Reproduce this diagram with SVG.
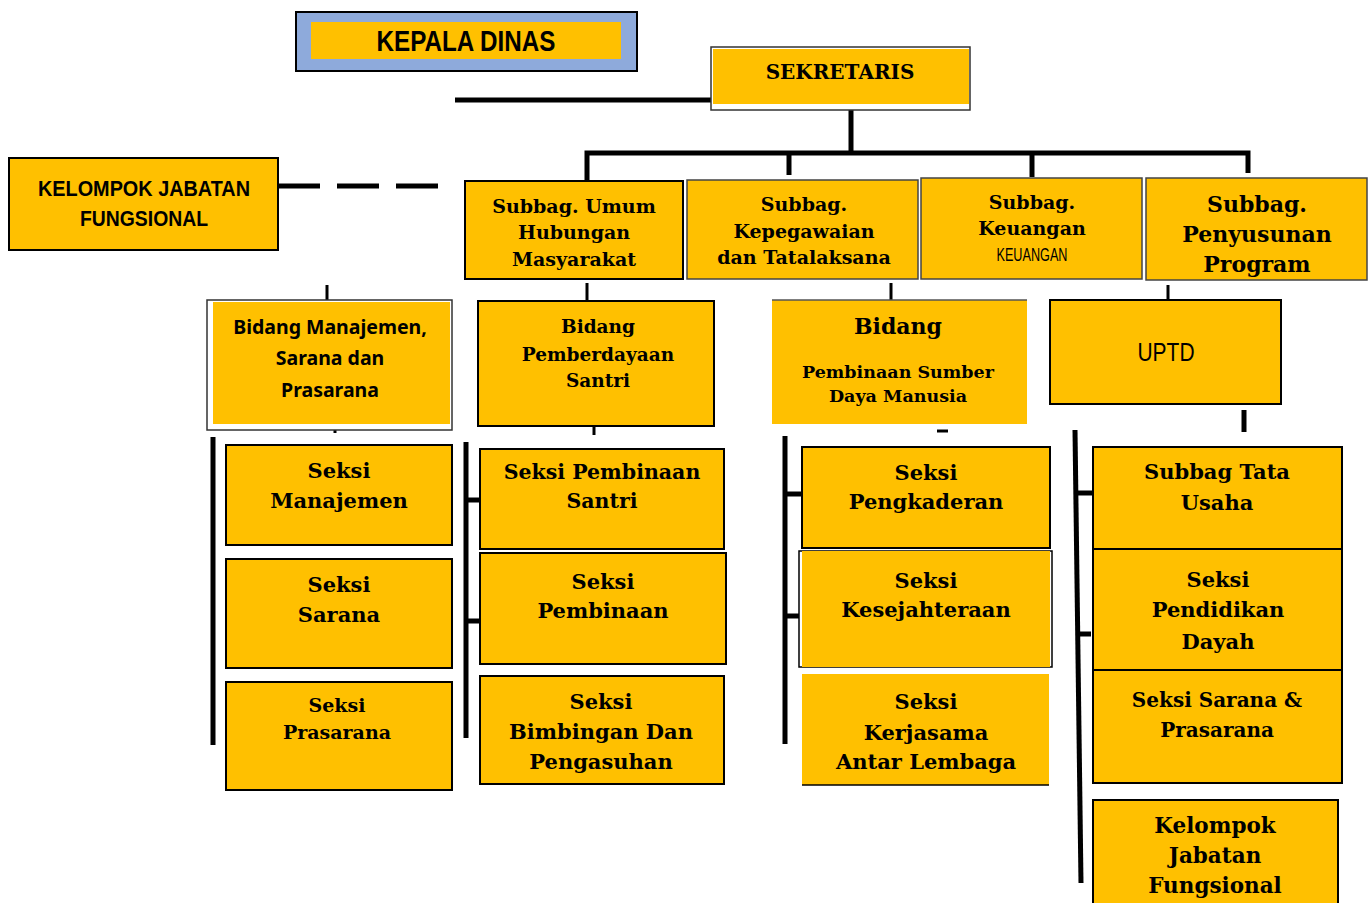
<svg xmlns="http://www.w3.org/2000/svg" width="1371" height="903" viewBox="0 0 1371 903">
<style>
.y{fill:#FFC000}
.b{fill:#FFC000;stroke:#000;stroke-width:2}
.g{fill:#FFC000;stroke:#444;stroke-width:1.5}
.w{fill:#fff;stroke:#333;stroke-width:1.5}
.s{font-family:"DejaVu Serif","Liberation Serif",serif;font-weight:bold;fill:#000;text-anchor:middle}
.n{font-family:"Liberation Sans Narrow","Liberation Sans",Arial,sans-serif;font-weight:bold;fill:#000;text-anchor:middle}
.nr{font-weight:normal}
.c{font-family:"Noto Sans","Open Sans",sans-serif;font-weight:bold;fill:#000;text-anchor:middle}
.ln{stroke:#000;stroke-width:5;fill:none}
.th{stroke:#000;stroke-width:3;fill:none}
</style>
<rect width="1371" height="903" fill="#fff"/>
<g id="connectors">
<line class="ln" x1="455" y1="100" x2="711" y2="100"/>
<line class="ln" x1="851" y1="110" x2="851" y2="153"/>
<polyline class="ln" points="587,180 587,153 1248,153 1248,173"/>
<line class="ln" x1="789" y1="153" x2="789" y2="175"/>
<line class="ln" x1="1032" y1="153" x2="1032" y2="177"/>
<line class="ln" x1="278" y1="186" x2="438" y2="186" stroke-dasharray="42,17"/>
<line class="th" x1="327" y1="285" x2="327" y2="300"/>
<line class="th" x1="587" y1="283" x2="587" y2="301"/>
<line class="th" x1="891" y1="283" x2="891" y2="300"/>
<line class="th" x1="1168" y1="285" x2="1168" y2="300"/>
<line class="th" x1="335" y1="424" x2="335" y2="433"/>
<line class="th" x1="594" y1="426" x2="594" y2="435"/>
<line class="th" x1="937" y1="431" x2="948" y2="431"/>
<line class="ln" x1="1244" y1="410" x2="1244" y2="432"/>
<line class="ln" x1="213" y1="437" x2="213" y2="745"/>
<line class="ln" x1="466" y1="442" x2="466" y2="738"/>
<line class="ln" x1="466" y1="500" x2="480" y2="500"/>
<line class="ln" x1="466" y1="621" x2="480" y2="621"/>
<line class="ln" x1="785" y1="436" x2="785" y2="744"/>
<line class="ln" x1="785" y1="494" x2="801" y2="494"/>
<line class="ln" x1="785" y1="616" x2="799" y2="616"/>
<line class="ln" x1="1075" y1="430" x2="1081" y2="883"/>
<line class="ln" x1="1076" y1="493" x2="1093" y2="493"/>
<line class="ln" x1="1077" y1="634" x2="1091" y2="634"/>
</g>
<g id="kepala-dinas">
<rect x="296" y="12" width="341" height="59" fill="#8EAADB" stroke="#000" stroke-width="2"/>
<rect class="y" x="311" y="22" width="310" height="37"/>
<text class="n" x="466" y="51" font-size="29" textLength="179" lengthAdjust="spacingAndGlyphs">KEPALA DINAS</text>
</g>
<g id="sekretaris">
<rect class="w" x="711" y="47" width="259" height="63" stroke="#000" stroke-width="2"/>
<rect class="y" x="713" y="49" width="256" height="55"/>
<text class="s" x="840" y="79" font-size="20">SEKRETARIS</text>
</g>
<g id="kelompok-jf">
<rect class="b" x="9" y="158" width="269" height="92" stroke-width="2.5"/>
<text class="n" x="144" y="196" font-size="22" textLength="212" lengthAdjust="spacingAndGlyphs">KELOMPOK JABATAN</text>
<text class="n" x="144" y="226" font-size="22" textLength="128" lengthAdjust="spacingAndGlyphs">FUNGSIONAL</text>
</g>
<g id="subbag-umum">
<rect class="b" x="465" y="181" width="218" height="98"/>
<text class="s" x="574" y="213" font-size="19">Subbag. Umum</text>
<text class="s" x="574" y="239" font-size="19">Hubungan</text>
<text class="s" x="574" y="266" font-size="19">Masyarakat</text>
</g>
<g id="subbag-kepegawaian">
<rect class="g" x="687" y="180" width="231" height="99"/>
<text class="s" x="804" y="211" font-size="19">Subbag.</text>
<text class="s" x="804" y="238" font-size="19">Kepegawaian</text>
<text class="s" x="804" y="264" font-size="19">dan Tatalaksana</text>
</g>
<g id="subbag-keuangan">
<rect class="g" x="921" y="178" width="221" height="101"/>
<text class="s" x="1032" y="209" font-size="19">Subbag.</text>
<text class="s" x="1032" y="235" font-size="19">Keuangan</text>
<text class="n nr" x="1032" y="261" font-size="19" textLength="71" lengthAdjust="spacingAndGlyphs">KEUANGAN</text>
</g>
<g id="subbag-penyusunan">
<rect class="g" x="1146" y="178" width="221" height="102"/>
<text class="s" x="1257" y="212" font-size="22">Subbag.</text>
<text class="s" x="1257" y="242" font-size="22">Penyusunan</text>
<text class="s" x="1257" y="272" font-size="22">Program</text>
</g>
<g id="bidang-manajemen">
<rect class="w" x="207" y="300" width="245" height="130"/>
<rect class="y" x="213" y="302" width="237" height="122"/>
<text class="c" x="330" y="334" font-size="19.5">Bidang Manajemen,</text>
<text class="c" x="330" y="365" font-size="19.5">Sarana dan</text>
<text class="c" x="330" y="397" font-size="19.5">Prasarana</text>
</g>
<g id="bidang-pemberdayaan">
<rect class="b" x="478" y="301" width="236" height="125"/>
<text class="s" x="598" y="333" font-size="18.5">Bidang</text>
<text class="s" x="598" y="361" font-size="18.5">Pemberdayaan</text>
<text class="s" x="598" y="387" font-size="18.5">Santri</text>
</g>
<g id="bidang-pembinaan-sdm">
<rect class="y" x="772" y="300" width="255" height="124"/>
<line x1="772" y1="300" x2="1027" y2="300" stroke="#555" stroke-width="1.5"/>
<text class="s" x="898" y="334" font-size="22">Bidang</text>
<text class="s" x="898" y="378" font-size="17.5">Pembinaan Sumber</text>
<text class="s" x="898" y="402" font-size="17.5">Daya Manusia</text>
</g>
<g id="uptd">
<rect class="b" x="1050" y="300" width="231" height="104"/>
<text class="n nr" x="1166" y="361" font-size="26" textLength="57" lengthAdjust="spacingAndGlyphs">UPTD</text>
</g>
<g id="seksi-manajemen">
<rect class="b" x="226" y="445" width="226" height="100"/>
<text class="s" x="339" y="478" font-size="21">Seksi</text>
<text class="s" x="339" y="508" font-size="21">Manajemen</text>
</g>
<g id="seksi-sarana">
<rect class="b" x="226" y="559" width="226" height="109"/>
<text class="s" x="339" y="592" font-size="21">Seksi</text>
<text class="s" x="339" y="622" font-size="21">Sarana</text>
</g>
<g id="seksi-prasarana">
<rect class="b" x="226" y="682" width="226" height="108"/>
<text class="s" x="337" y="712" font-size="19">Seksi</text>
<text class="s" x="337" y="739" font-size="19">Prasarana</text>
</g>
<g id="seksi-pembinaan-santri">
<rect class="b" x="480" y="449" width="244" height="100"/>
<text class="s" x="602" y="479" font-size="20.5">Seksi Pembinaan</text>
<text class="s" x="602" y="508" font-size="20.5">Santri</text>
</g>
<g id="seksi-pembinaan">
<rect class="b" x="480" y="553" width="246" height="111"/>
<text class="s" x="603" y="589" font-size="21">Seksi</text>
<text class="s" x="603" y="618" font-size="21">Pembinaan</text>
</g>
<g id="seksi-bimbingan">
<rect class="b" x="480" y="676" width="244" height="108"/>
<text class="s" x="601" y="709" font-size="21">Seksi</text>
<text class="s" x="601" y="739" font-size="21">Bimbingan Dan</text>
<text class="s" x="601" y="769" font-size="21">Pengasuhan</text>
</g>
<g id="seksi-pengkaderan">
<rect class="b" x="802" y="447" width="248" height="101"/>
<text class="s" x="926" y="480" font-size="21">Seksi</text>
<text class="s" x="926" y="509" font-size="21">Pengkaderan</text>
</g>
<g id="seksi-kesejahteraan">
<rect x="799" y="551" width="253" height="116" fill="#fff" stroke="#000" stroke-width="1.5"/>
<rect class="y" x="802" y="551" width="248" height="116"/>
<text class="s" x="926" y="588" font-size="21">Seksi</text>
<text class="s" x="926" y="617" font-size="21">Kesejahteraan</text>
</g>
<g id="seksi-kerjasama">
<rect class="y" x="802" y="674" width="247" height="111"/>
<line x1="802" y1="785" x2="1049" y2="785" stroke="#000" stroke-width="1.5"/>
<text class="s" x="926" y="709" font-size="21">Seksi</text>
<text class="s" x="926" y="740" font-size="21">Kerjasama</text>
<text class="s" x="926" y="769" font-size="21">Antar Lembaga</text>
</g>
<g id="subbag-tata-usaha">
<rect class="b" x="1093" y="447" width="249" height="102"/>
<text class="s" x="1217" y="479" font-size="21">Subbag Tata</text>
<text class="s" x="1217" y="510" font-size="21">Usaha</text>
</g>
<g id="seksi-pendidikan-dayah">
<rect class="b" x="1093" y="549" width="249" height="121"/>
<text class="s" x="1218" y="587" font-size="21">Seksi</text>
<text class="s" x="1218" y="617" font-size="21">Pendidikan</text>
<text class="s" x="1218" y="649" font-size="21">Dayah</text>
</g>
<g id="seksi-sarana-prasarana">
<rect class="b" x="1093" y="670" width="249" height="113"/>
<text class="s" x="1217" y="707" font-size="20">Seksi Sarana &amp;</text>
<text class="s" x="1217" y="737" font-size="20">Prasarana</text>
</g>
<g id="kelompok-jf-uptd">
<rect class="b" x="1093" y="800" width="245" height="110"/>
<text class="s" x="1215" y="833" font-size="21.5">Kelompok</text>
<text class="s" x="1215" y="863" font-size="21.5">Jabatan</text>
<text class="s" x="1215" y="893" font-size="21.5">Fungsional</text>
</g>
</svg>
